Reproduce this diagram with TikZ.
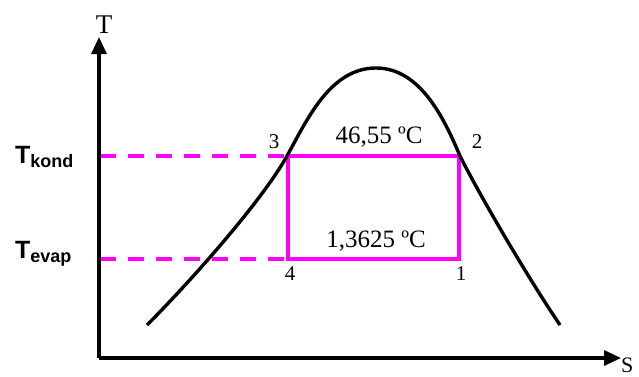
\documentclass[tikz,border=0pt]{standalone}
\usepackage{fontspec}
\setmainfont{Liberation Serif}
\newfontfamily\arialfont{Liberation Sans}
\usetikzlibrary{arrows.meta}
\definecolor{mag}{HTML}{FF00FF}
\tikzset{
  axisline/.style={line width=3.2pt,-{Triangle[length=17pt,width=15pt]}},
  cycleline/.style={mag,line width=4pt},
  dashline/.style={mag,line width=4pt,dash pattern=on 16pt off 12pt},
  domeline/.style={black,line width=3.4pt,line cap=butt},
  ptlabel/.style={font=\fontsize{21}{21}\selectfont,inner sep=0pt},
  templabel/.style={font=\fontsize{25}{25}\selectfont,inner sep=0pt,anchor=base},
  levlabel/.style={font=\arialfont\bfseries\fontsize{25}{25}\selectfont,inner sep=0pt,anchor=base west},
  axlabel/.style={font=\fontsize{27}{27}\selectfont,inner sep=0pt}
}
\begin{document}
\begin{tikzpicture}[x=1pt,y=-1pt]
\useasboundingbox (0,0) rectangle (639,376);
% coordinates
\coordinate (O) at (99,358);
\coordinate (Ytop) at (99,37);
\coordinate (Xend) at (621,358);
\coordinate (p1) at (459,259);
\coordinate (p2) at (459,156);
\coordinate (p3) at (288,156);
\coordinate (p4) at (288,259);
\coordinate (k0) at (100,156);
\coordinate (e0) at (100,259);
\coordinate (d0) at (147,325);
\coordinate (d3) at (287,156);
\coordinate (dtop) at (376,68);
\coordinate (d2) at (460,156);
\coordinate (d9) at (560,325);
% dashed level lines
\draw[dashline] (k0) -- (p3);
\draw[dashline] (e0) -- (p4);
% cycle rectangle
\draw[cycleline] (p4) -- (p3) -- (p2) -- (p1) -- cycle;
% saturation dome
\draw[domeline] (d0) .. controls (190,282) and (262,201) .. (d3)
  .. controls (307,120) and (330,68) .. (dtop)
  .. controls (420,68) and (444,118) .. (d2)
  .. controls (480,196) and (530,281) .. (d9);
% axes
\draw[axisline] (O) -- (Ytop);
\draw[axisline] (O) -- (Xend);
% labels
\node[axlabel] (lT) at (104,25) {T};
\node[axlabel,anchor=base west,font=\fontsize{22}{22}\selectfont] (lS) at (621,372) {S};
\node[ptlabel] (l3) at (274,142) {3};
\node[ptlabel] (l2) at (477,142) {2};
\node[ptlabel] (l4) at (290,274) {4};
\node[ptlabel] (l1) at (461,274) {1};
\node[templabel] (tk) at (379,143) {46,55 ºC};
\node[templabel] (te) at (376,247) {1,3625 ºC};
\node[levlabel] (Tk) at (15,163) {T\raisebox{-4pt}{\fontsize{18}{18}\selectfont kond}};
\node[levlabel] (Te) at (15,258) {T\raisebox{-4pt}{\fontsize{18}{18}\selectfont evap}};
\end{tikzpicture}
\end{document}
